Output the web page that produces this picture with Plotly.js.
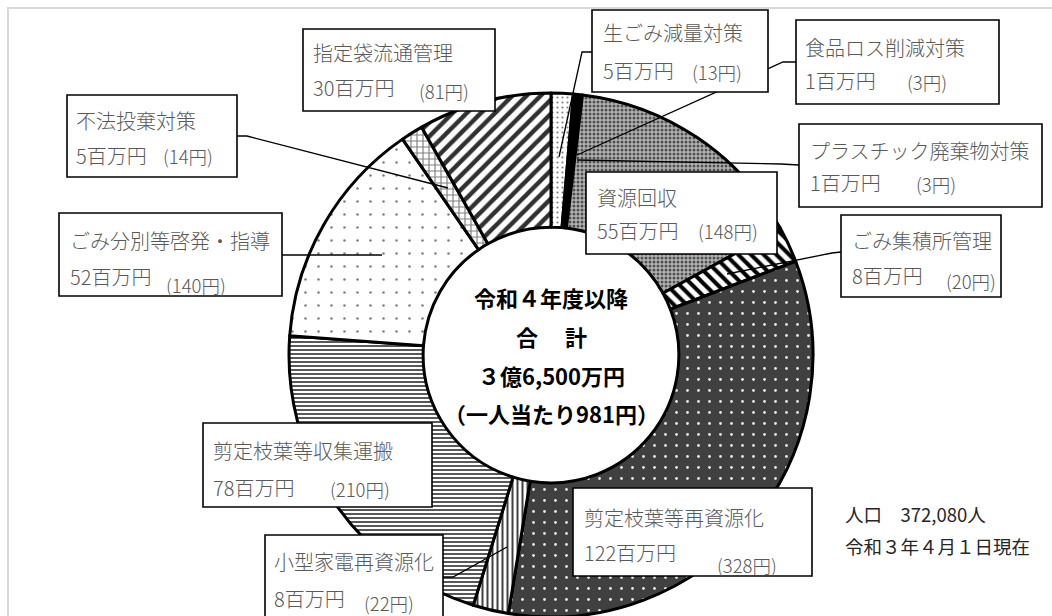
<!DOCTYPE html>
<html>
<head>
<meta charset="utf-8">
<script src="https://cdn.plot.ly/plotly-3.0.1.min.js"></script>
<style>
html,body{margin:0;padding:0;background:#fff;overflow:hidden;}
#chart{width:1052px;height:640px;}
</style>
</head>
<body>
<div id="chart"></div>
<script>
// ---- data ----
const labels = ['生ごみ減量対策','食品ロス削減対策','プラスチック廃棄物対策','資源回収','ごみ集積所管理','剪定枝葉等再資源化','小型家電再資源化','剪定枝葉等収集運搬','ごみ分別等啓発・指導','不法投棄対策','指定袋流通管理'];
const costs = [5, 1, 1, 55, 8, 122, 8, 78, 52, 5, 30];          // 百万円
const perCapita = [13, 3, 3, 148, 20, 328, 22, 210, 140, 14, 81]; // 円
const centerLines = ['令和４年度以降', '合　 計', '３億6,500万円', '（一人当たり981円）'];
const noteLines = ['人口　372,080人', '令和３年４月１日現在'];

// ---- layout helpers ----
const W = 1052, H = 640;
const X = p => p / W;
const Y = p => 1 - p / H;
const CX = 551, CY = 355, R = 262;

// slice styles
const sliceStyle = [
  {shape: '.', bg: '#ffffff', fg: '#808080', size: 5, sol: 0.15},
  {shape: '',  bg: '#000000', fg: '#000000', size: 8, sol: 0.3},
  {shape: '',  bg: '#000000', fg: '#000000', size: 8, sol: 0.3},
  {shape: '.', bg: '#b4b4b4', fg: '#505050', size: 4, sol: 0.45},
  {shape: '\\', bg: '#ffffff', fg: '#000000', size: 9, sol: 0.45},
  {shape: '.', bg: '#404040', fg: '#e8e8e8', size: 11, sol: 0.05},
  {shape: '|', bg: '#ffffff', fg: '#404040', size: 5, sol: 0.4},
  {shape: '-', bg: '#ffffff', fg: '#454545', size: 4, sol: 0.45},
  {shape: '.', bg: '#ffffff', fg: '#808080', size: 13, sol: 0.03},
  {shape: '+', bg: '#ffffff', fg: '#808080', size: 6, sol: 0.35},
  {shape: '/', bg: '#ffffff', fg: '#303030', size: 10, sol: 0.45}
];

// label boxes: box [x0,y0,x1,y1], text left, line1 y, line2 y, paren x, paren y
const boxes = [
  {b:[592,10,768,92],  tx:601, y1:33,  y2:70,  px:690, py:72},
  {b:[796,20,999,104], tx:803, y1:47,  y2:80,  px:905, py:82},
  {b:[799,124,1042,207], tx:808, y1:150, y2:183, px:914, py:184},
  {b:[586,172,777,254], tx:595, y1:197, y2:230, px:696, py:231},
  {b:[841,215,1001,297], tx:850, y1:240, y2:275, px:944, py:281},
  {b:[573,488,812,576], tx:582, y1:517, y2:552, px:715, py:565},
  {b:[265,535,443,640], tx:272, y1:561, y2:598, px:362, py:603},
  {b:[203,423,432,507], tx:211, y1:450, y2:487, px:328, py:489},
  {b:[59,213,282,296],  tx:68,  y1:240, y2:276, px:164, py:285},
  {b:[67,95,237,177],   tx:74,  y1:120, y2:155, px:161, py:156},
  {b:[303,29,495,111],  tx:311, y1:53,  y2:88,  px:417, py:91}
];

// leader lines (pixel polylines)
const leaders = [
  [[592,52],[582,52],[559,157]],
  [[796,62],[783,62],[577,155]],
  [[799,165],[781,164],[577,160]],
  [[841,252],[832,253],[727,274]],
  [[282,255],[382,255]],
  [[237,136],[247,136],[448,188]],
  [[443,577],[453,577],[507,547]]
];

const trace = {
  type: 'pie',
  labels: labels,
  values: costs,
  sort: false,
  direction: 'clockwise',
  rotation: 0,
  hole: 0.488,
  textinfo: 'none',
  hoverinfo: 'none',
  showlegend: false,
  domain: {x: [X(CX - R), X(CX + R)], y: [Y(CY + R), Y(CY - R)]},
  marker: {
    colors: sliceStyle.map(s => s.bg),
    line: {color: '#000000', width: 3},
    pattern: {
      shape: sliceStyle.map(s => s.shape),
      bgcolor: sliceStyle.map(s => s.bg),
      fgcolor: sliceStyle.map(s => s.fg),
      size: sliceStyle.map(s => s.size),
      solidity: sliceStyle.map(s => s.sol),
      fillmode: 'replace'
    }
  }
};

const shapes = [];
// frame
shapes.push({type:'rect', xref:'paper', yref:'paper', x0:X(8), y0:Y(8), x1:X(1100), y1:Y(700),
  line:{color:'#d9d9d9', width:2}, fillcolor:'rgba(0,0,0,0)', layer:'below'});
// leader lines
leaders.forEach(pts => {
  const path = pts.map((p, i) => (i ? 'L' : 'M') + X(p[0]) + ',' + Y(p[1])).join(' ');
  shapes.push({type:'path', xref:'paper', yref:'paper', path: path,
    line:{color:'#000000', width:1.3}, layer:'above'});
});
// boxes
boxes.forEach(bx => {
  shapes.push({type:'rect', xref:'paper', yref:'paper',
    x0:X(bx.b[0]), y0:Y(bx.b[1]), x1:X(bx.b[2]), y1:Y(bx.b[3]),
    line:{color:'#000000', width:1.6}, fillcolor:'#ffffff', layer:'above'});
});

const FONT = '"Noto Sans CJK JP", "Noto Sans", sans-serif';
const annotations = [];
boxes.forEach((bx, i) => {
  annotations.push({xref:'paper', yref:'paper', x:X(bx.tx), y:Y(bx.y1), xanchor:'left', yanchor:'middle',
    showarrow:false, text: labels[i], font:{family:FONT, size:20, color:'#595959', weight:300}});
  annotations.push({xref:'paper', yref:'paper', x:X(bx.tx), y:Y(bx.y2), xanchor:'left', yanchor:'middle',
    showarrow:false, text: costs[i] + '百万円', font:{family:FONT, size:20, color:'#595959', weight:300}});
  annotations.push({xref:'paper', yref:'paper', x:X(bx.px), y:Y(bx.py), xanchor:'left', yanchor:'middle',
    showarrow:false, text: '(' + perCapita[i] + '円)', font:{family:FONT, size:18.5, color:'#595959', weight:300}});
});
const centerY = [297, 336, 375, 413];
centerLines.forEach((t, i) => {
  annotations.push({xref:'paper', yref:'paper', x:X(CX), y:Y(centerY[i]), xanchor:'center', yanchor:'middle',
    showarrow:false, text: t, font:{family:FONT, size:22, color:'#000000', weight:700}});
});
const noteY = [514, 546];
noteLines.forEach((t, i) => {
  annotations.push({xref:'paper', yref:'paper', x:X(843), y:Y(noteY[i]), xanchor:'left', yanchor:'middle',
    showarrow:false, text: t, font:{family:FONT, size:18.5, color:'#262626'}});
});

const layout = {
  width: W, height: H,
  margin: {l:0, r:0, t:0, b:0},
  paper_bgcolor: '#ffffff',
  plot_bgcolor: '#ffffff',
  shapes: shapes,
  annotations: annotations
};

Plotly.newPlot('chart', [trace], layout, {staticPlot: true, displayModeBar: false});
</script>
</body>
</html>
